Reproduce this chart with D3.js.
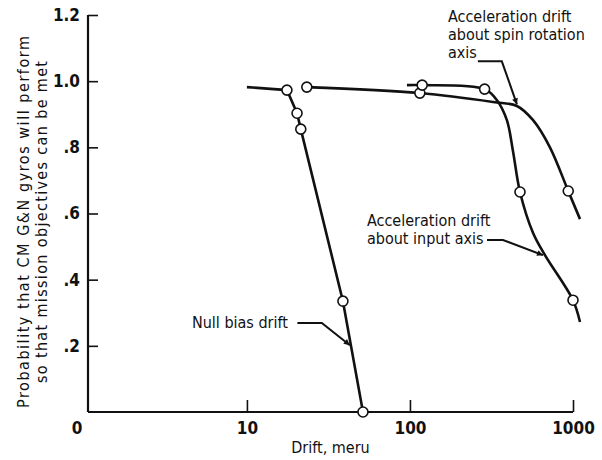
<!DOCTYPE html>
<html>
<head>
<meta charset="utf-8">
<script src="https://cdn.jsdelivr.net/npm/d3@7"></script>
<style>
  body { margin: 0; background: #fff; }
  text { font-family: "Liberation Sans Narrow", "DejaVu Sans Condensed", "Liberation Sans", sans-serif; fill: #111; }
</style>
</head>
<body>
<div id="chartDiv"></div>
<script>
// values
var xTickValues = [10, 100, 1000];
var yTickValues = [0.2, 0.4, 0.6, 0.8, 1.0, 1.2];
var yTickLabels = [".2", ".4", ".6", ".8", "1.0", "1.2"];

// null bias drift
var nullBiasX = [10, 17.6, 20.3, 21.4, 38.8, 51.5];
var nullBiasY = [0.982, 0.973, 0.903, 0.855, 0.335, 0.0];
var nullBiasPtsX = [17.6, 20.3, 21.4, 38.8, 51.5];
var nullBiasPtsY = [0.973, 0.903, 0.855, 0.335, 0.0];

// acceleration drift about spin rotation axis
var spinX = [23.3, 115, 323, 453, 569, 722, 935, 1104];
var spinY = [0.982, 0.964, 0.937, 0.925, 0.882, 0.80, 0.668, 0.583];
var spinPtsX = [23.3, 115, 935];
var spinPtsY = [0.982, 0.964, 0.668];

// acceleration drift about input axis
var inputX = [95.8, 118.8, 287, 341, 393, 428, 473, 569, 673, 1000, 1104];
var inputY = [0.988, 0.988, 0.976, 0.943, 0.882, 0.79, 0.665, 0.541, 0.474, 0.338, 0.272];
var inputPtsX = [118.8, 287, 473, 1000];
var inputPtsY = [0.988, 0.976, 0.665, 0.338];

// annotation texts and leader lines (data units)
var spinLabel = ["Acceleration drift", "about spin rotation", "axis"];
var spinLabelPos = [171, 1.178];
var spinLeaderX = [261, 366, 453];
var spinLeaderY = [1.060, 1.060, 0.930];

var inputLabel = ["Acceleration drift", "about input axis"];
var inputLabelPos = [54.5, 0.562];
var inputLeaderX = [297, 372, 655];
var inputLeaderY = [0.520, 0.520, 0.474];

var nullLabel = ["Null bias drift"];
var nullLabelPos = [4.6, 0.254];
var nullLeaderX = [20.4, 28.8, 42.8];
var nullLeaderY = [0.269, 0.269, 0.202];

var width = 602, height = 460;
var margin = {left: 88, right: 29, top: 15, bottom: 48};

var svg = d3.select("#chartDiv")
    .append("svg")
    .attr("width", width)
    .attr("height", height);

var x = d3.scaleLog()
    .domain([1.06, 1000])
    .range([margin.left, width - margin.right]);

var y = d3.scaleLinear()
    .domain([0, 1.2])
    .range([height - margin.bottom, margin.top]);

var defs = svg.append("defs");
defs.append("marker")
    .attr("id", "arrow")
    .attr("viewBox", "0 0 10 10")
    .attr("refX", 10)
    .attr("refY", 5)
    .attr("markerWidth", 9)
    .attr("markerHeight", 6)
    .attr("markerUnits", "userSpaceOnUse")
    .attr("orient", "auto")
    .append("path")
    .attr("d", "M0,0 L10,5 L0,10 Z")
    .attr("fill", "#111");

// axes
var xAxis = d3.axisBottom(x)
    .tickValues(xTickValues)
    .tickSize(-12)
    .tickPadding(10)
    .tickFormat(d3.format("d"));

var yAxis = d3.axisLeft(y)
    .tickValues(yTickValues)
    .tickSize(-10)
    .tickPadding(8)
    .tickFormat(function(d, i) { return yTickLabels[i]; });

var gx = svg.append("g")
    .attr("transform", "translate(0," + y(0) + ")")
    .call(xAxis);
var gy = svg.append("g")
    .attr("transform", "translate(" + x.range()[0] + ",0)")
    .call(yAxis);

[gx, gy].forEach(function(g) {
    g.select(".domain").attr("stroke", "#111").attr("stroke-width", 2.2);
    g.selectAll(".tick line").attr("stroke", "#111").attr("stroke-width", 1.6);
    g.selectAll(".tick text")
        .style("font-family", "'Liberation Sans Narrow', 'DejaVu Sans Condensed', sans-serif")
        .style("font-size", "17px")
        .style("font-weight", "bold")
        .attr("fill", "#111");
});
gx.select(".domain").attr("d", "M" + x.range()[0] + ",0H" + x.range()[1]);
gy.select(".domain").attr("d", "M0," + y.range()[0] + "V" + y.range()[1]);

// "0" at the origin
svg.append("text")
    .attr("x", x.range()[0] - 11)
    .attr("y", y(0) + 10)
    .attr("dy", "0.71em")
    .attr("text-anchor", "middle")
    .style("font-size", "17px")
    .style("font-weight", "bold")
    .text("0");

// axis titles
svg.append("text")
    .attr("x", (x.range()[0] + x.range()[1]) / 2 + 0)
    .attr("y", 453)
    .attr("text-anchor", "middle")
    .style("font-size", "16px")
    .text("Drift, meru");

var yTitle = svg.append("text")
    .attr("transform", "translate(29,222) rotate(-90)")
    .attr("text-anchor", "middle")
    .style("font-size", "16px");
yTitle.append("tspan").attr("x", 0).attr("dy", 0)
    .attr("textLength", 372).attr("lengthAdjust", "spacing")
    .text("Probability that CM G&N gyros will perform");
yTitle.append("tspan").attr("x", 0).attr("dy", "1.15em")
    .attr("textLength", 322).attr("lengthAdjust", "spacing")
    .text("so that mission objectives can be met");

// curves
var line = d3.line()
    .x(function(d) { return x(d[0]); })
    .y(function(d) { return y(d[1]); });

var series = [
    [nullBiasX, nullBiasY, nullBiasPtsX, nullBiasPtsY, d3.curveLinear],
    [spinX, spinY, spinPtsX, spinPtsY, d3.curveCatmullRom.alpha(0.5)],
    [inputX, inputY, inputPtsX, inputPtsY, d3.curveCatmullRom.alpha(0.5)]
];

for (var i = 0; i < series.length; i++) {
    var pts = d3.zip(series[i][0], series[i][1]);
    svg.append("path")
        .attr("d", line.curve(series[i][4])(pts))
        .attr("fill", "none")
        .attr("stroke", "#111")
        .attr("stroke-width", 2.6);
}
for (var i = 0; i < series.length; i++) {
    svg.append("g").selectAll("circle")
        .data(d3.zip(series[i][2], series[i][3]))
        .enter().append("circle")
        .attr("cx", function(d) { return x(d[0]); })
        .attr("cy", function(d) { return y(d[1]); })
        .attr("r", 5)
        .attr("fill", "#fff")
        .attr("stroke", "#111")
        .attr("stroke-width", 1.6);
}

// annotations
function annotate(lines, pos, leadX, leadY) {
    var t = svg.append("text")
        .attr("x", x(pos[0]))
        .attr("y", y(pos[1]))
        .style("font-size", "16px");
    lines.forEach(function(s, k) {
        t.append("tspan")
            .attr("x", x(pos[0]))
            .attr("dy", k == 0 ? 0 : "1.12em")
            .text(s);
    });
    svg.append("path")
        .attr("d", d3.line().x(function(d) { return x(d[0]); }).y(function(d) { return y(d[1]); })(d3.zip(leadX, leadY)))
        .attr("fill", "none")
        .attr("stroke", "#111")
        .attr("stroke-width", 2)
        .attr("marker-end", "url(#arrow)");
}

annotate(spinLabel, spinLabelPos, spinLeaderX, spinLeaderY);
annotate(inputLabel, inputLabelPos, inputLeaderX, inputLeaderY);
annotate(nullLabel, nullLabelPos, nullLeaderX, nullLeaderY);
</script>
</body>
</html>
